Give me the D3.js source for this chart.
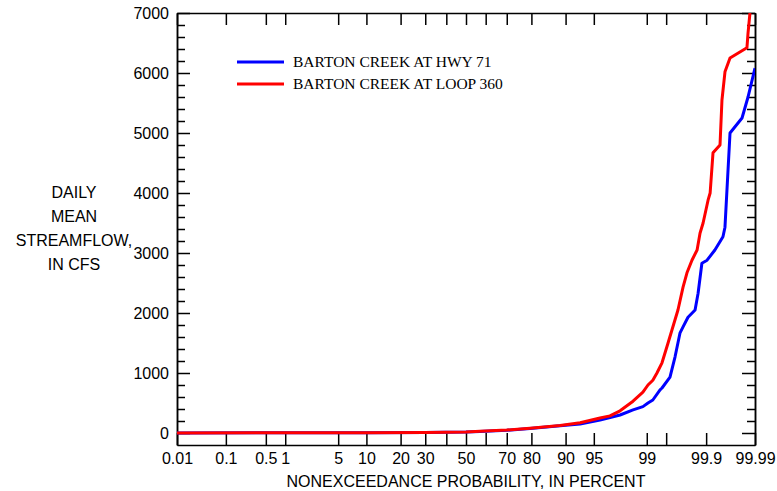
<!DOCTYPE html>
<html>
<head>
<meta charset="utf-8">
<script src="https://cdn.jsdelivr.net/npm/d3@7"></script>
<style>
  body { margin: 0; background: #fff; }
  svg { display: block; }
  .axis text { font-family: "Liberation Sans", Arial, sans-serif; font-size: 16px; fill: #000; }
  .axis path, .axis line { stroke: #000; stroke-width: 1.5; }
</style>
</head>
<body>
<svg id="chart" width="777" height="491"></svg>
<script>
// probability ticks (percent)
const tickProbs = [0.01, 0.1, 0.5, 1, 5, 10, 20, 30, 40, 50, 60, 70, 80, 90, 95, 99, 99.5, 99.9, 99.99];
const tickLabels = ["0.01", "0.1", "0.5", "1", "5", "10", "20", "30", "", "50", "", "70", "80", "90", "95", "99", "", "99.9", "99.99"];

// flow ticks
const majorFlow = [0, 1000, 2000, 3000, 4000, 5000, 6000, 7000];
const minorFlow = d3.range(200, 7000, 200).filter(v => v % 1000 !== 0);

// Barton Creek at Hwy 71
const hwy71Prob = [0.01, 1, 10, 30, 50, 57.1, 70, 79.5, 88.7, 92.9, 95.77, 97.63, 98.42, 98.86, 99.04, 99.19,
  99.374, 99.417, 99.567, 99.643, 99.706, 99.739, 99.786, 99.84, 99.859, 99.88, 99.904, 99.932, 99.9528,
  99.957, 99.966, 99.9809, 99.9858, 99.99];
const hwy71Flow = [0, 3, 6, 10, 18, 27, 45, 75, 120, 150, 215, 300, 385, 440, 500, 550,
  720, 750, 930, 1270, 1670, 1770, 1930, 2050, 2330, 2830, 2880, 3050, 3270,
  3430, 5000, 5250, 5600, 6080];

// Barton Creek at Loop 360
const loop360Prob = [0.01, 1, 10, 30, 50, 57.1, 70, 79.5, 88.7, 92.9, 95.77, 96.8, 97.63, 98.42, 98.86, 99.04,
  99.19, 99.3, 99.417, 99.534, 99.599, 99.681, 99.739, 99.777, 99.818, 99.853, 99.87, 99.886, 99.908,
  99.916, 99.926, 99.946, 99.9506, 99.957, 99.966, 99.985, 99.9858, 99.9871];
const loop360Flow = [0, 3, 6, 10, 18, 28, 50, 80, 125, 170, 250, 285, 370, 530, 680, 800,
  880, 1000, 1170, 1500, 1720, 2050, 2430, 2670, 2880, 3050, 3330, 3500, 3880,
  4000, 4670, 4800, 5550, 6020, 6250, 6420, 6670, 7000];

const seriesNames = ["BARTON CREEK AT HWY 71", "BARTON CREEK AT LOOP 360"];
const seriesColors = ["#0000ff", "#ff0000"];

// inverse normal CDF (Acklam)
function probit(p) {
  const a = [-3.969683028665376e+01, 2.209460984245205e+02, -2.759285104469687e+02, 1.383577518672690e+02, -3.066479806614716e+01, 2.506628277459239e+00];
  const b = [-5.447609879822406e+01, 1.615858368580409e+02, -1.556989798598866e+02, 6.680131188771972e+01, -1.328068155288572e+01];
  const c = [-7.784894002430293e-03, -3.223964580411365e-01, -2.400758277161838e+00, -2.549671348283498e+00, 4.374664141464968e+00, 2.938163982698783e+00];
  const d = [7.784695709041462e-03, 3.224671290700398e-01, 2.445134137142996e+00, 3.754408661907416e+00];
  const pl = 0.02425;
  let q, r;
  if (p < pl) {
    q = Math.sqrt(-2 * Math.log(p));
    return (((((c[0] * q + c[1]) * q + c[2]) * q + c[3]) * q + c[4]) * q + c[5]) / ((((d[0] * q + d[1]) * q + d[2]) * q + d[3]) * q + 1);
  }
  if (p <= 1 - pl) {
    q = p - 0.5; r = q * q;
    return (((((a[0] * r + a[1]) * r + a[2]) * r + a[3]) * r + a[4]) * r + a[5]) * q / (((((b[0] * r + b[1]) * r + b[2]) * r + b[3]) * r + b[4]) * r + 1);
  }
  q = Math.sqrt(-2 * Math.log(1 - p));
  return -(((((c[0] * q + c[1]) * q + c[2]) * q + c[3]) * q + c[4]) * q + c[5]) / ((((d[0] * q + d[1]) * q + d[2]) * q + d[3]) * q + 1);
}
const zOf = pct => probit(pct / 100);

const plotLeft = 177, plotRight = 755, plotTop = 13, plotBottom = 445;
const svg = d3.select("#chart");

const x = d3.scaleLinear().domain([zOf(0.01), zOf(99.99)]).range([plotLeft, plotRight]);
const y = d3.scaleLinear().domain([-200, 7000]).range([plotBottom, plotTop]);

const tickZ = tickProbs.map(zOf);
const labelFor = z => tickLabels[tickZ.indexOf(z)];

// bottom axis, ticks inside
svg.append("g").attr("class", "axis")
  .attr("transform", `translate(0,${plotBottom})`)
  .call(d3.axisBottom(x).tickValues(tickZ).tickFormat(labelFor).tickSize(-12).tickSizeOuter(0).tickPadding(8));

// top axis, ticks inside
svg.append("g").attr("class", "axis")
  .attr("transform", `translate(0,${plotTop})`)
  .call(d3.axisTop(x).tickValues(tickZ).tickFormat("").tickSize(-12).tickSizeOuter(0));

// left axis
svg.append("g").attr("class", "axis")
  .attr("transform", `translate(${plotLeft},0)`)
  .call(d3.axisLeft(y).tickValues(majorFlow).tickFormat(d3.format("d")).tickSize(-13).tickSizeOuter(0).tickPadding(8));
svg.append("g").attr("class", "axis")
  .attr("transform", `translate(${plotLeft},0)`)
  .call(d3.axisLeft(y).tickValues(minorFlow).tickFormat("").tickSize(-8).tickSizeOuter(0));

// right axis
svg.append("g").attr("class", "axis")
  .attr("transform", `translate(${plotRight},0)`)
  .call(d3.axisRight(y).tickValues(majorFlow).tickFormat("").tickSize(-13).tickSizeOuter(0));
svg.append("g").attr("class", "axis")
  .attr("transform", `translate(${plotRight},0)`)
  .call(d3.axisRight(y).tickValues(minorFlow).tickFormat("").tickSize(-8).tickSizeOuter(0));

// curves
svg.append("clipPath").attr("id", "plot-clip")
  .append("rect").attr("x", plotLeft).attr("y", plotTop).attr("width", plotRight - plotLeft).attr("height", plotBottom - plotTop);

const line = d3.line().x(d => x(zOf(d[0]))).y(d => y(d[1]));
const series = [
  d3.zip(hwy71Prob, hwy71Flow),
  d3.zip(loop360Prob, loop360Flow)
];
series.forEach((s, i) => {
  svg.append("path")
    .attr("clip-path", "url(#plot-clip)")
    .attr("d", line(s))
    .attr("fill", "none")
    .attr("stroke", seriesColors[i])
    .attr("stroke-width", 3)
    .attr("stroke-linejoin", "round");
});

// legend
seriesNames.forEach((name, i) => {
  const ly = 62 + i * 22;
  svg.append("line")
    .attr("x1", 237).attr("x2", 284).attr("y1", ly).attr("y2", ly)
    .attr("stroke", seriesColors[i]).attr("stroke-width", 3);
  svg.append("text")
    .attr("x", 293).attr("y", ly + 4.5)
    .style("font-family", "'Liberation Serif', 'Times New Roman', serif")
    .style("font-size", "15.5px")
    .text(name);
});

// axis titles
const titleFont = "'Liberation Sans', Arial, sans-serif";
svg.append("text")
  .attr("x", 466).attr("y", 487)
  .attr("text-anchor", "middle")
  .style("font-family", titleFont).style("font-size", "16px")
  .text("NONEXCEEDANCE PROBABILITY, IN PERCENT");

["DAILY", "MEAN", "STREAMFLOW,", "IN CFS"].forEach((t, i) => {
  svg.append("text")
    .attr("x", 74).attr("y", 198 + i * 24)
    .attr("text-anchor", "middle")
    .style("font-family", titleFont).style("font-size", "16px")
    .text(t);
});
</script>
</body>
</html>
